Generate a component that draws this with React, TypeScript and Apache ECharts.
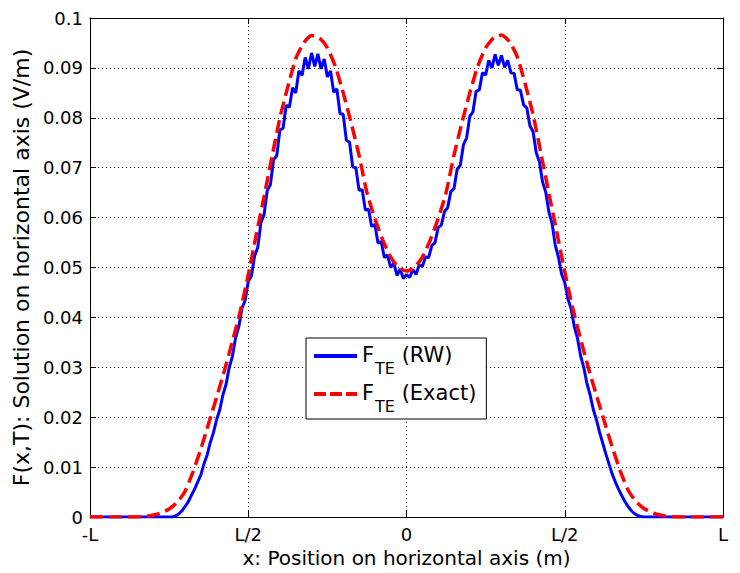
import React, { useEffect, useRef } from "react";
import * as echarts from "echarts";

// Tick labels
const xTickLabels = ["-L", "L/2", "0", "L/2", "L"];
const seriesNames = ["RW", "Exact"];

// RW solution sampled at x = -1.00 ... 1.00 (step 0.01, in units of L)
const rwStart = -1;
const rwStep = 0.01;
const rwValues = [
  0, 0, 0, 0, 0, 0, 0, 0, 0, 0, 0, 0, 0, 0, 0, 0, 0, 0, 0, 0, 0, 0, 0, 0, 0, 0,
  0.0000, 0.0002, 0.0006, 0.0012, 0.0021, 0.0030, 0.0043, 0.0055, 0.0070, 0.0084,
  0.0106, 0.0124, 0.0149, 0.0169, 0.0195, 0.0215, 0.0245, 0.0266, 0.0300, 0.0322,
  0.0359, 0.0381, 0.0418, 0.0434, 0.0472, 0.0483, 0.0523, 0.0540, 0.0590, 0.0606,
  0.0654, 0.0666, 0.0716, 0.0724, 0.0776, 0.0779, 0.0825, 0.0821, 0.0860, 0.0850,
  0.0894, 0.0885, 0.0921, 0.0898, 0.0930, 0.0903, 0.0928, 0.0898, 0.0918, 0.0882,
  0.0894, 0.0851, 0.0858, 0.0808, 0.0807, 0.0755, 0.0751, 0.0702, 0.0700, 0.0655,
  0.0656, 0.0615, 0.0617, 0.0582, 0.0586, 0.0549, 0.0552, 0.0520, 0.0525, 0.0500,
  0.0509, 0.0484, 0.0497, 0.0478,
  0.0486,
  0.0480, 0.0496, 0.0486, 0.0505, 0.0502, 0.0521, 0.0520, 0.0544, 0.0550, 0.0580,
  0.0585, 0.0612, 0.0620, 0.0652, 0.0658, 0.0697, 0.0705, 0.0746, 0.0760, 0.0803,
  0.0812, 0.0853, 0.0856, 0.0890, 0.0886, 0.0915, 0.0900, 0.0927, 0.0905, 0.0925,
  0.0901, 0.0915, 0.0890, 0.0889, 0.0856, 0.0855, 0.0826, 0.0820, 0.0784, 0.0772,
  0.0730, 0.0712, 0.0671, 0.0651, 0.0611, 0.0588, 0.0545, 0.0521, 0.0487, 0.0470,
  0.0437, 0.0418, 0.0382, 0.0359, 0.0323, 0.0300, 0.0268, 0.0245, 0.0216, 0.0195,
  0.0170, 0.0148, 0.0126, 0.0106, 0.0086, 0.0070, 0.0056, 0.0043, 0.0031, 0.0021,
  0.0013, 0.0007, 0.0003, 0.0001,
  0, 0, 0, 0, 0, 0, 0, 0, 0, 0, 0, 0, 0, 0, 0, 0, 0, 0, 0, 0, 0, 0, 0, 0, 0, 0,
];

// Exact solution sampled at x = -1.000 ... 1.000 (step 0.025)
const exStart = -1;
const exStep = 0.025;
const exactValues = [
  0, 0, 0, 0, 0, 0, 0, 0.0001, 0.0004, 0.0008,
  0.0016, 0.0029, 0.0051, 0.0090, 0.0136, 0.0188, 0.0240, 0.0294, 0.0352, 0.0413,
  0.0485, 0.0565, 0.0642, 0.0722, 0.0800, 0.0862, 0.0918, 0.0950, 0.0965, 0.0960,
  0.0940, 0.0903, 0.0850, 0.0790, 0.0725, 0.0650, 0.0598, 0.0555, 0.0521, 0.0500,
  0.0493,
  0.0500, 0.0521, 0.0555, 0.0598, 0.0650, 0.0725, 0.0790, 0.0850, 0.0903, 0.0940,
  0.0960, 0.0966, 0.0953, 0.0922, 0.0868, 0.0806, 0.0728, 0.0648, 0.0571, 0.0491,
  0.0419, 0.0357, 0.0298, 0.0244, 0.0192, 0.0140, 0.0093, 0.0054, 0.0031, 0.0017,
  0.0009, 0.0004, 0.0001, 0, 0, 0, 0, 0, 0, 0,
];

const FONT = "DejaVu Sans";

export default function App() {
  const ref = useRef<HTMLDivElement>(null);
  useEffect(() => {
    if (!ref.current) return;
    const chart = echarts.init(ref.current, null, { renderer: "svg" });
    const rwData = rwValues.map((v, i) => [+(rwStart + i * rwStep).toFixed(3), v]);
    const exData = exactValues.map((v, i) => [+(exStart + i * exStep).toFixed(3), v]);
    const axisLine = { show: true, onZero: false, lineStyle: { color: "#000", width: 1 } };
    const axisTick = { show: true, inside: true, length: 6, lineStyle: { color: "#000", width: 1 } };
    const splitLine = { show: true, lineStyle: { color: "#000", width: 1, type: [1, 3] as any } };
    const option: any = {
      animation: false,
      grid: { left: 90, right: 17, top: 18, bottom: 55, containLabel: false },
      xAxis: [
        {
          type: "value",
          min: -1,
          max: 1,
          interval: 0.5,
          position: "bottom",
          name: "x: Position on horizontal axis (m)",
          nameLocation: "middle",
          nameGap: 31,
          nameTextStyle: { fontFamily: FONT, fontSize: 20, color: "#000" },
          axisLine,
          axisTick,
          axisLabel: {
            fontFamily: FONT,
            fontSize: 18,
            color: "#000",
            margin: 8,
            formatter: (v: number) => xTickLabels[Math.round((v + 1) / 0.5)] ?? "",
          },
          splitLine,
        },
        {
          type: "value",
          min: -1,
          max: 1,
          interval: 0.5,
          position: "top",
          axisLine,
          axisTick,
          axisLabel: { show: false },
          splitLine: { show: false },
        },
      ],
      yAxis: [
        {
          type: "value",
          min: 0,
          max: 0.1,
          interval: 0.01,
          position: "left",
          name: "F(x,T): Solution on horizontal axis (V/m)",
          nameLocation: "middle",
          nameGap: 55,
          nameTextStyle: { fontFamily: FONT, fontSize: 22, color: "#000" },
          axisLine,
          axisTick,
          axisLabel: {
            fontFamily: FONT,
            fontSize: 18,
            color: "#000",
            margin: 7,
            formatter: (v: number) => String(+v.toFixed(2)),
          },
          splitLine,
        },
        {
          type: "value",
          min: 0,
          max: 0.1,
          interval: 0.01,
          position: "right",
          axisLine,
          axisTick,
          axisLabel: { show: false },
          splitLine: { show: false },
        },
      ],
      legend: {
        left: 306,
        top: 338,
        orient: "vertical",
        backgroundColor: "#fff",
        borderColor: "#000",
        borderWidth: 1,
        borderRadius: 0,
        padding: [6, 10, 5, 8],
        itemGap: 6,
        itemWidth: 43,
        itemHeight: 4,
        selectedMode: false,
        formatter: (name: string) => `{f|F}{s|TE}{t| (${name})}`,
        textStyle: {
          fontFamily: FONT,
          fontSize: 20,
          color: "#000",
          rich: {
            f: { fontFamily: FONT, fontSize: 21, color: "#000", verticalAlign: "top", lineHeight: 24 },
            s: { fontFamily: FONT, fontSize: 16, color: "#000", verticalAlign: "top", lineHeight: 16, padding: [16, 0, 0, 1] },
            t: { fontFamily: FONT, fontSize: 21, color: "#000", verticalAlign: "top", lineHeight: 24 },
          },
        },
        data: [
          { name: seriesNames[0], icon: "path://M0,0H43V4H0Z", itemStyle: { color: "#0000ff", borderWidth: 0 } },
          {
            name: seriesNames[1],
            icon: "path://M0,0H12V4H0Z M16,0H28V4H16Z M32,0H43V4H32Z",
            itemStyle: { color: "#ff0000", borderWidth: 0 },
          },
        ],
      },
      series: [
        {
          name: seriesNames[0],
          type: "line",
          data: rwData,
          showSymbol: false,
          symbol: "none",
          xAxisIndex: 0,
          yAxisIndex: 0,
          lineStyle: { color: "#0000ff", width: 3 },
          itemStyle: { color: "#0000ff" },
          z: 2,
        },
        {
          name: seriesNames[1],
          type: "line",
          data: exData,
          showSymbol: false,
          symbol: "none",
          smooth: 0.2,
          xAxisIndex: 0,
          yAxisIndex: 0,
          lineStyle: { color: "#ff0000", width: 3.5, type: [13, 6] },
          itemStyle: { color: "#ff0000" },
          z: 3,
        },
      ],
    };
    chart.setOption(option);
    return () => chart.dispose();
  }, []);
  return (
    <div
      ref={ref}
      style={{ position: "absolute", left: 0, top: 0, width: 740, height: 573, background: "#fff" }}
    />
  );
}
